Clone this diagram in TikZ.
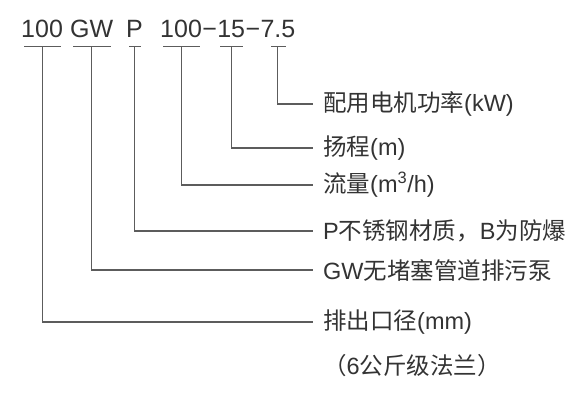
\documentclass[tikz,border=0pt]{standalone}
\usepackage{fontspec}
\setmainfont{Liberation Sans}
\newfontfamily\cjk{Noto Sans CJK SC}
\newcommand{\zh}[1]{{\cjk #1}}
\definecolor{CodeGray}{HTML}{333333}
\definecolor{LineGray}{HTML}{5C5C5C}
\usetikzlibrary{positioning}

\begin{document}
\begin{tikzpicture}[x=1pt, y=-1pt,
    code/.style={inner xsep=0pt, inner ysep=8pt, anchor=base west,
                 text=CodeGray, font=\fontsize{25}{30}\selectfont},
    lab/.style={anchor=west, inner xsep=10pt, inner ysep=0pt,
                text=CodeGray, font=\fontsize{23.5}{28}\selectfont},
    bar/.style={draw=LineGray, line width=1.1pt, shorten <=3pt, shorten >=2pt},
    lead/.style={draw=LineGray, line width=1.1pt}]
  \useasboundingbox (0,0) rectangle (588,406);
  % Model code
  \node[code] (dia) at (21,38) {100};
  \node[code] (typ) at (70,38) {GW};
  \node[code] (mat) at (126,38) {P};
  \node[code] (flow) at (160,38) {100};
  \node[code] (d1) at (flow.base east) {−};
  \node[code] (head) at (d1.base east) {15};
  \node[code] (d2) at (head.base east) {−};
  \node[code] (pow) at (d2.base east) {7.5};
  % Meanings
  \node[lab] (tpow) at (313,104)  {\zh{配用电机功率}(kW)};
  \node[lab] (thead) at (313,148) {\zh{扬程}(m)};
  \node[lab] (tflow) at (313,185) {\zh{流量}(m\textsuperscript{3}/h)};
  \node[lab] (tmat) at (313,231)  {P\zh{不锈钢材质，}B\zh{为防爆}};
  \node[lab] (ttyp) at (313,270)  {GW\zh{无堵塞管道排污泵}};
  \node[lab] (tdia) at (313,322)  {\zh{排出口径}(mm)};
  \node[lab] (tflange) at (313,366) {\zh{（}6\zh{公斤级法兰）}};
  % Leaders
  \foreach \c in {dia, typ, mat, flow, head}
    \draw[bar] (\c.south west) -- (\c.south east);
  \draw[bar, shorten <=11pt, shorten >=9pt] (pow.south west) -- (pow.south east);
  \draw[lead] (pow.south) |- (tpow.west);
  \draw[lead] (head.south) |- (thead.west);
  \draw[lead] (flow.south) |- (tflow.west);
  \draw[lead] (mat.south) |- (tmat.west);
  \draw[lead] (typ.south) |- (ttyp.west);
  \draw[lead] (dia.south) |- (tdia.west);
\end{tikzpicture}
\end{document}
